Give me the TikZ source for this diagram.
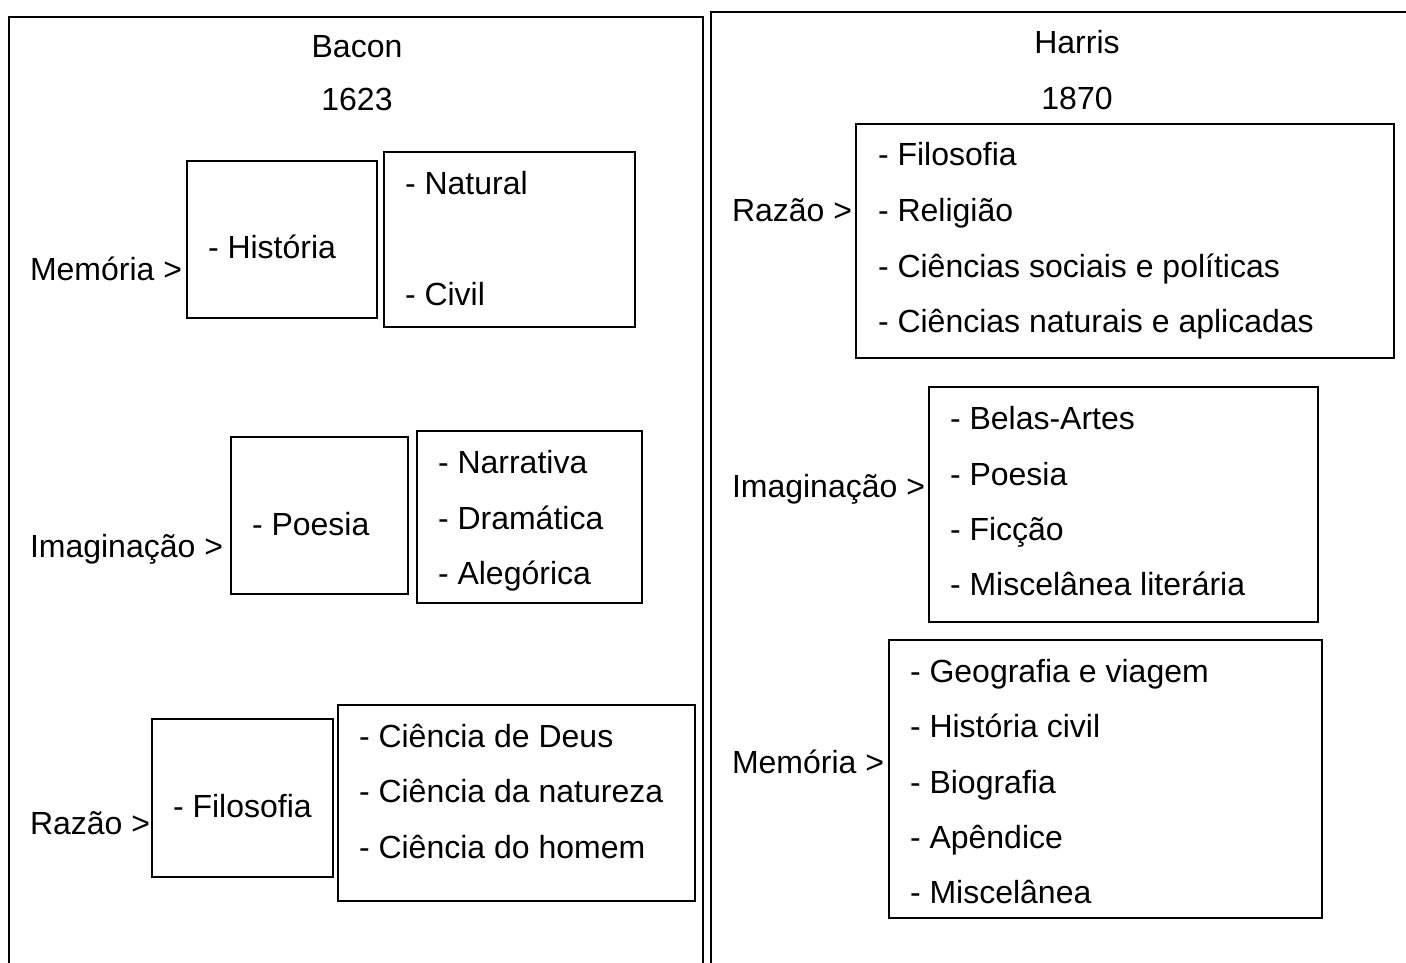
\documentclass[tikz,border=0pt]{standalone}
\usepackage{fontspec}
\setmainfont{Liberation Sans}
\begin{document}
\begin{tikzpicture}[x=1pt,y=-1pt,
  every node/.style={font=\fontsize{32}{38}\selectfont, inner sep=0pt, outer sep=0pt},
  txt/.style={anchor=base west},
  ctr/.style={anchor=base},
  boxst/.style={draw, line width=1.5pt, rectangle, anchor=north west},
  panel/.style={line width=2.4pt}]
\useasboundingbox (0,0) rectangle (1406,963);
\clip (0,0) rectangle (1406,963);
% panels
\draw[panel] (9,975) -- (9,17) -- (703,17) -- (703,975);
\draw[panel] (711,975) -- (711,12) -- (1420,12);

% ---------- Bacon ----------
\node[ctr] (bacon) at (357,58) {Bacon};
\node[ctr] (b1623) at (357,111) {1623};

% Memória
\node[txt] (bmem) at (30,280) {Memória >};
\node[boxst, minimum width=190, minimum height=157] (bmb1) at (187,161) {};
\node[txt] (bhist) at (208,258) {- História};
\node[boxst, minimum width=251, minimum height=175] (bmb2) at (384,152) {};
\node[txt] (bnat) at (405,194) {- Natural};
\node[txt] (bciv) at (405,305) {- Civil};

% Imaginação
\node[txt] (bima) at (30,557) {Imaginação >};
\node[boxst, minimum width=177, minimum height=157] (bib1) at (231,437) {};
\node[txt] (bpoe) at (252,535) {- Poesia};
\node[boxst, minimum width=225, minimum height=172] (bib2) at (417,431) {};
\node[txt] (bnar) at (438,473) {- Narrativa};
\node[txt] (bdra) at (438,529) {- Dramática};
\node[txt] (bale) at (438,584) {- Alegórica};

% Razão
\node[txt] (braz) at (30,834) {Razão >};
\node[boxst, minimum width=181, minimum height=158] (brb1) at (152,719) {};
\node[txt] (bfil) at (173,817) {- Filosofia};
\node[boxst, minimum width=357, minimum height=196] (brb2) at (338,705) {};
\node[txt] (bdeu) at (359,747) {- Ciência de Deus};
\node[txt] (bnatz) at (359,802) {- Ciência da natureza};
\node[txt] (bhom) at (359,858) {- Ciência do homem};

% ---------- Harris ----------
\node[ctr] (harris) at (1077,54) {Harris};
\node[ctr] (h1870) at (1077,110) {1870};

% Razão
\node[txt] (hraz) at (732,222) {Razão >};
\node[boxst, minimum width=538, minimum height=234] (hrb) at (856,124) {};
\node[txt] (hfil) at (878,166) {- Filosofia};
\node[txt] (hrel) at (878,221) {- Religião};
\node[txt] (hsoc) at (878,277) {- Ciências sociais e políticas};
\node[txt] (hnat) at (878,332) {- Ciências naturais e aplicadas};

% Imaginação
\node[txt] (hima) at (732,497) {Imaginação >};
\node[boxst, minimum width=389, minimum height=235] (hib) at (929,387) {};
\node[txt] (hbel) at (950,429) {- Belas-Artes};
\node[txt] (hpoe) at (950,485) {- Poesia};
\node[txt] (hfic) at (950,540) {- Ficção};
\node[txt] (hmis) at (950,595) {- Miscelânea literária};

% Memória
\node[txt] (hmem) at (732,773) {Memória >};
\node[boxst, minimum width=433, minimum height=278] (hmb) at (889,640) {};
\node[txt] (hgeo) at (910,682) {- Geografia e viagem};
\node[txt] (hhis) at (910,737) {- História civil};
\node[txt] (hbio) at (910,793) {- Biografia};
\node[txt] (hape) at (910,848) {- Apêndice};
\node[txt] (hmsc) at (910,903) {- Miscelânea};
\end{tikzpicture}
\end{document}
